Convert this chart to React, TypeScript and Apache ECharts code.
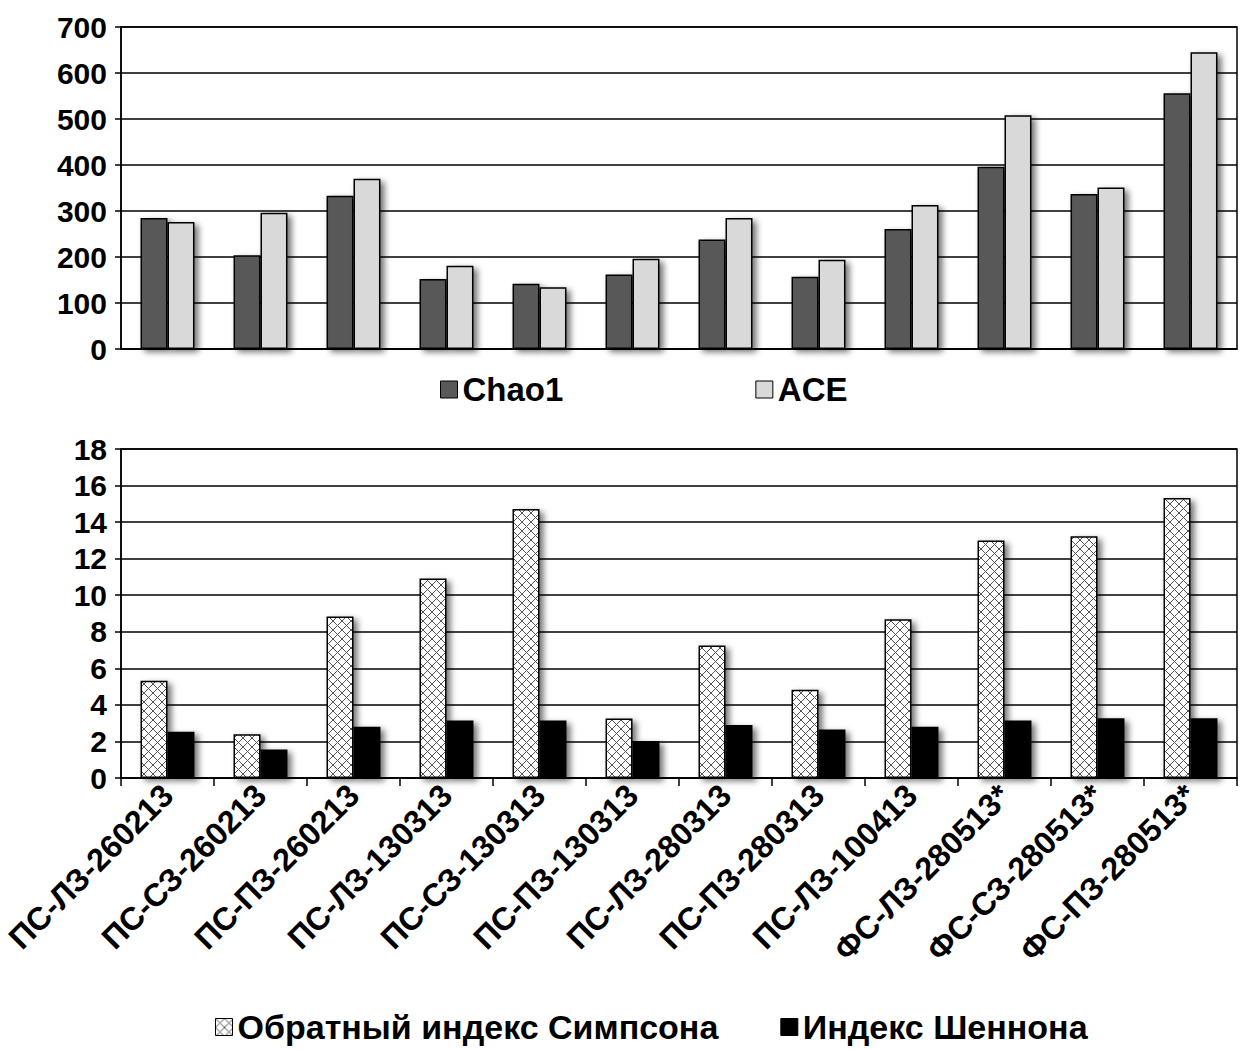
import React, { useEffect, useRef } from "react";
import * as echarts from "echarts";

const categories = [
  "ПС-ЛЗ-260213",
  "ПС-СЗ-260213",
  "ПС-ПЗ-260213",
  "ПС-ЛЗ-130313",
  "ПС-СЗ-130313",
  "ПС-ПЗ-130313",
  "ПС-ЛЗ-280313",
  "ПС-ПЗ-280313",
  "ПС-ЛЗ-100413",
  "ФС-ЛЗ-280513*",
  "ФС-СЗ-280513*",
  "ФС-ПЗ-280513*",
];

const chao1 = [285, 204, 333, 152, 142, 162, 238, 157, 261, 396, 337, 556];
const ace = [276, 296, 370, 181, 134, 196, 285, 194, 313, 508, 351, 645];

const simpson = [5.32, 2.39, 8.83, 10.92, 14.72, 3.25, 7.25, 4.83, 8.68, 12.99, 13.23, 15.32];
const shannon = [2.53, 1.56, 2.81, 3.14, 3.14, 2.02, 2.9, 2.66, 2.81, 3.14, 3.27, 3.27];

const topTicks = { min: 0, max: 700, interval: 100 };
const bottomTicks = { min: 0, max: 18, interval: 2 };

const FONT = "'Liberation Sans', Arial, sans-serif";

function makeHatch() {
  const s = 9;
  const c = document.createElement("canvas");
  c.width = s;
  c.height = s;
  const ctx = c.getContext("2d")!;
  ctx.fillStyle = "#ffffff";
  ctx.fillRect(0, 0, s, s);
  ctx.strokeStyle = "#555555";
  ctx.lineWidth = 1;
  ctx.beginPath();
  ctx.moveTo(0, 0);
  ctx.lineTo(s, s);
  ctx.moveTo(0, s);
  ctx.lineTo(s, 0);
  ctx.stroke();
  return c;
}

export default function App() {
  const ref = useRef<HTMLDivElement>(null);
  useEffect(() => {
    if (!ref.current) return;
    const chart = echarts.init(ref.current, null, { renderer: "svg" });
    const hatch = makeHatch();
    const shadow = {
      shadowColor: "rgba(0,0,0,0.55)",
      shadowBlur: 6,
      shadowOffsetX: 4,
      shadowOffsetY: 3,
    };
    const axisLabelY = {
      color: "#000",
      fontFamily: FONT,
      fontWeight: "bold" as const,
      fontSize: 30,
      margin: 14,
    };
    const splitLine = { show: true, lineStyle: { color: "#000", width: 1.5 } };
    chart.setOption({
      animation: false,
      backgroundColor: "#fff",
      textStyle: { fontFamily: FONT },
      grid: [
        { left: 121, right: 3, top: 27, height: 322, show: true, borderColor: "#000", borderWidth: 1.5, backgroundColor: "transparent" },
        { left: 121, right: 3, top: 449, height: 329, show: true, borderColor: "#000", borderWidth: 1.5, backgroundColor: "transparent" },
      ],
      legend: [
        {
          data: ["Chao1", "ACE"],
          left: 440,
          top: 373,
          padding: 0,
          itemGap: 192,
          itemWidth: 17,
          itemHeight: 17,
          icon: "rect",
          textStyle: { color: "#000", fontSize: 33, fontWeight: "bold", fontFamily: FONT },
          itemStyle: { shadowBlur: 0, shadowOffsetX: 0, shadowOffsetY: 0, borderWidth: 1 },
        },
        {
          data: ["Обратный индекс Симпсона", "Индекс Шеннона"],
          left: 215,
          top: 1010,
          padding: 0,
          itemGap: 62,
          itemWidth: 17,
          itemHeight: 17,
          icon: "rect",
          textStyle: { color: "#000", fontSize: 34, fontWeight: "bold", fontFamily: FONT },
          itemStyle: { shadowBlur: 0, shadowOffsetX: 0, shadowOffsetY: 0, borderWidth: 1 },
        },
      ],
      xAxis: [
        {
          type: "category",
          gridIndex: 0,
          data: categories,
          axisLine: { lineStyle: { color: "#000", width: 1.5 } },
          axisTick: { show: false },
          axisLabel: { show: false },
        },
        {
          type: "category",
          gridIndex: 1,
          data: categories,
          axisLine: { lineStyle: { color: "#000", width: 1.5 } },
          axisTick: { show: true, length: 8, lineStyle: { color: "#000", width: 1.5 } },
          axisLabel: {
            interval: 0,
            rotate: 45,
            color: "#000",
            fontFamily: FONT,
            fontWeight: "bold",
            fontSize: 32,
            margin: 12,
          },
        },
      ],
      yAxis: [
        {
          type: "value",
          gridIndex: 0,
          ...topTicks,
          axisLine: { show: true, lineStyle: { color: "#000", width: 1.5 } },
          axisTick: { show: true, length: 6, lineStyle: { color: "#000", width: 1.5 } },
          axisLabel: axisLabelY,
          splitLine,
        },
        {
          type: "value",
          gridIndex: 1,
          ...bottomTicks,
          axisLine: { show: true, lineStyle: { color: "#000", width: 1.5 } },
          axisTick: { show: true, length: 6, lineStyle: { color: "#000", width: 1.5 } },
          axisLabel: axisLabelY,
          splitLine,
        },
      ],
      series: [
        {
          name: "Chao1",
          type: "bar",
          xAxisIndex: 0,
          yAxisIndex: 0,
          data: chao1,
          barWidth: "29%",
          barGap: "0%",
          itemStyle: { color: "#595959", borderColor: "#000", borderWidth: 1.5, ...shadow },
        },
        {
          name: "ACE",
          type: "bar",
          xAxisIndex: 0,
          yAxisIndex: 0,
          data: ace,
          barWidth: "29%",
          barGap: "0%",
          itemStyle: { color: "#d9d9d9", borderColor: "#000", borderWidth: 1.5, ...shadow },
        },
        {
          name: "Обратный индекс Симпсона",
          type: "bar",
          xAxisIndex: 1,
          yAxisIndex: 1,
          data: simpson,
          barWidth: "29%",
          barGap: "0%",
          itemStyle: {
            color: { image: hatch, repeat: "repeat", imageWidth: 9, imageHeight: 9 } as any,
            borderColor: "#000",
            borderWidth: 1.5,
            ...shadow,
          },
        },
        {
          name: "Индекс Шеннона",
          type: "bar",
          xAxisIndex: 1,
          yAxisIndex: 1,
          data: shannon,
          barWidth: "29%",
          barGap: "0%",
          itemStyle: { color: "#000", borderColor: "#000", borderWidth: 1.5, ...shadow },
        },
      ],
    });
    return () => chart.dispose();
  }, []);
  return (
    <div
      ref={ref}
      style={{ position: "fixed", left: 0, top: 0, width: 1240, height: 1050, background: "#fff" }}
    />
  );
}
